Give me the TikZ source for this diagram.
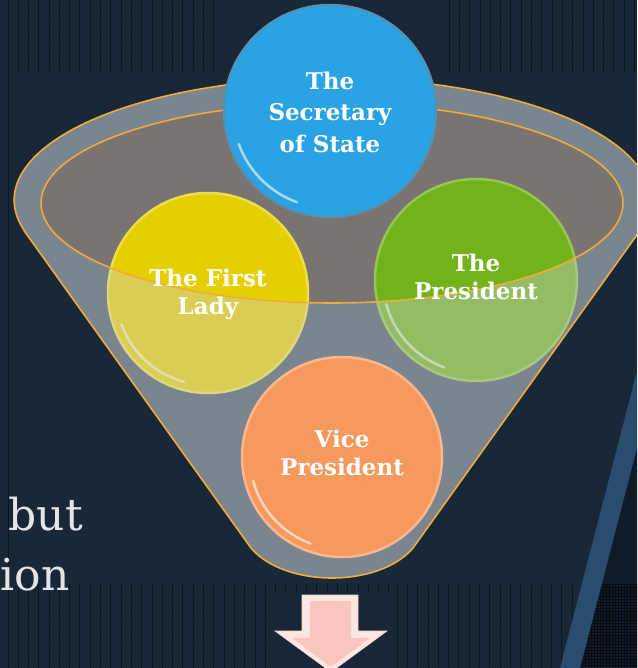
\documentclass[tikz,border=0pt]{standalone}
\usepackage{fontspec}
\setmainfont{DejaVu Serif}
\usepackage{tikz}
\usetikzlibrary{patterns}
\definecolor{slide}{HTML}{1C2B3B}
\definecolor{slidedark}{HTML}{0F1B27}
\definecolor{stripe}{HTML}{0D151E}
\definecolor{slash}{HTML}{2A4D6E}
\definecolor{rim}{HTML}{7A8590}
\definecolor{mouthgray}{HTML}{797372}
\definecolor{edge}{HTML}{EFAC3A}
\definecolor{secblue}{HTML}{29A3E3}
\definecolor{ladyyellow}{HTML}{E6CF00}
\definecolor{presgreen}{HTML}{72B21B}
\definecolor{viceorange}{HTML}{F6995C}
\definecolor{wash}{HTML}{C8CCD0}
\definecolor{arrowpink}{HTML}{F8C6BE}
\definecolor{arrowlight}{HTML}{FDE7E2}
\definecolor{bodytext}{HTML}{E3E5E8}
\tikzstyle{bgline}=[draw=stripe, line width=0.8pt]
\tikzstyle{ball}=[circle, inner sep=0pt, outer sep=0pt, line width=2.5pt]
\tikzstyle{balltext}=
  [text=white, font=\bfseries\fontsize{23}{28}\selectfont, align=center, inner sep=0pt]
\tikzstyle{shine}=[draw=white, line width=2.5pt, opacity=0.6, line cap=round]

\begin{document}
\begin{tikzpicture}[x=1pt, y=-1pt]
  \clip (0,0) rectangle (637,668);
  % backdrop with its stripes
  \fill[slide] (0,0) rectangle (637,668);
  \fill[pattern=north east lines, pattern color=black, opacity=0.2] (0,0) rectangle (637,668);
  \draw[bgline] (8,0) -- (8,668);
  \foreach \i in {0,...,19} \draw[bgline] (18+10.3*\i,0) -- ++(0,72);
  \foreach \i in {0,...,18} \draw[bgline] (449+10.3*\i,0) -- ++(0,72);
  \foreach \i in {0,...,24} \draw[bgline] (18+10.3*\i,584) -- ++(0,84);
  \foreach \i in {0,...,11} \draw[bgline] (275.5+10.3*\i,584) -- ++(0,8);
  \foreach \i in {0,...,17} \draw[bgline] (397+10.3*\i,584) -- ++(0,84);
  \fill[slidedark] (637,448) -- (580,668) -- (637,668) -- cycle;
  \fill[pattern=grid, pattern color=black, opacity=0.5] (602,584) -- (637,584) -- (637,668) -- (580,668) -- cycle;
  \fill[slash] (637,371) -- (560,668) -- (580,668) -- (637,448) -- cycle;

  \node[anchor=base east, text=bodytext, font=\fontsize{44}{50}\selectfont, inner sep=0pt] (but) at (83,530) {but};
  \node[anchor=base east, text=bodytext, font=\fontsize{44}{50}\selectfont, inner sep=0pt] (ion) at (70,590) {ion};

  % funnel
  \coordinate (mouth) at (332,203);
  \filldraw[fill=rim, draw=edge, line width=1.6pt]
    (25,232) -- (251,548) .. controls (285,588) and (379,588) .. (413,548)
    -- (639,232) arc[start angle=-15.2, end angle=195.2, x radius=318pt, y radius=122pt] -- cycle;
  \fill[mouthgray] (mouth) ellipse[x radius=291pt, y radius=100pt];

  % the two balls sitting in the mouth
  \node[ball, minimum size=200pt, fill=ladyyellow, draw=ladyyellow!70!white] (lady) at (208,293) {};
  \node[ball, minimum size=202pt, fill=presgreen, draw=presgreen!75!white] (pres) at (476,280) {};
  \draw[shine] (lady.center) ++(200:92pt) arc[start angle=200, end angle=255, radius=92pt];
  \draw[shine] (pres.center) ++(195:93pt) arc[start angle=195, end angle=250, radius=93pt];
  \begin{scope}
    \clip (lady.center) circle (101pt);
    \fill[wash, opacity=0.4, even odd rule] (0,0) rectangle (637,668)
      (mouth) ellipse[x radius=291pt, y radius=100pt];
  \end{scope}
  \begin{scope}
    \clip (pres.center) circle (102pt);
    \fill[wash, opacity=0.4, even odd rule] (0,0) rectangle (637,668)
      (mouth) ellipse[x radius=291pt, y radius=100pt];
  \end{scope}
  \draw[edge, line width=1.6pt] (mouth) ellipse[x radius=291pt, y radius=100pt];

  \node[ball, minimum size=212pt, fill=secblue, draw=secblue!55!gray] (sec) at (330,111) {};
  \node[ball, minimum size=200pt, fill=viceorange, draw=viceorange!70!white] (vice) at (342,457) {};
  \draw[shine] (sec.center) ++(200:97pt) arc[start angle=200, end angle=250, radius=97pt];
  \draw[shine] (vice.center) ++(195:92pt) arc[start angle=195, end angle=250, radius=92pt];

  \node[balltext, font=\bfseries\fontsize{23}{31.5}\selectfont] (secname) at (330,112) {The\\Secretary\\of State};
  \node[balltext] (ladyname) at (208,294) {The First\\Lady};
  \node[balltext] (presname) at (476,277) {The\\President};
  \node[balltext] (vicename) at (342,453) {Vice\\President};

  % arrow out of the funnel
  \filldraw[fill=arrowlight, draw=arrowpink!80!white, line width=0.6pt]
    (302,595) -- (358,595) -- (358,631) -- (387,631) -- (331,672) -- (275,631) -- (302,631) -- cycle;
  \fill[arrowpink] (310,601) -- (351,601) -- (351,638) -- (370,638) -- (331,667) -- (292,638) -- (310,638) -- cycle;
\end{tikzpicture}
\end{document}
